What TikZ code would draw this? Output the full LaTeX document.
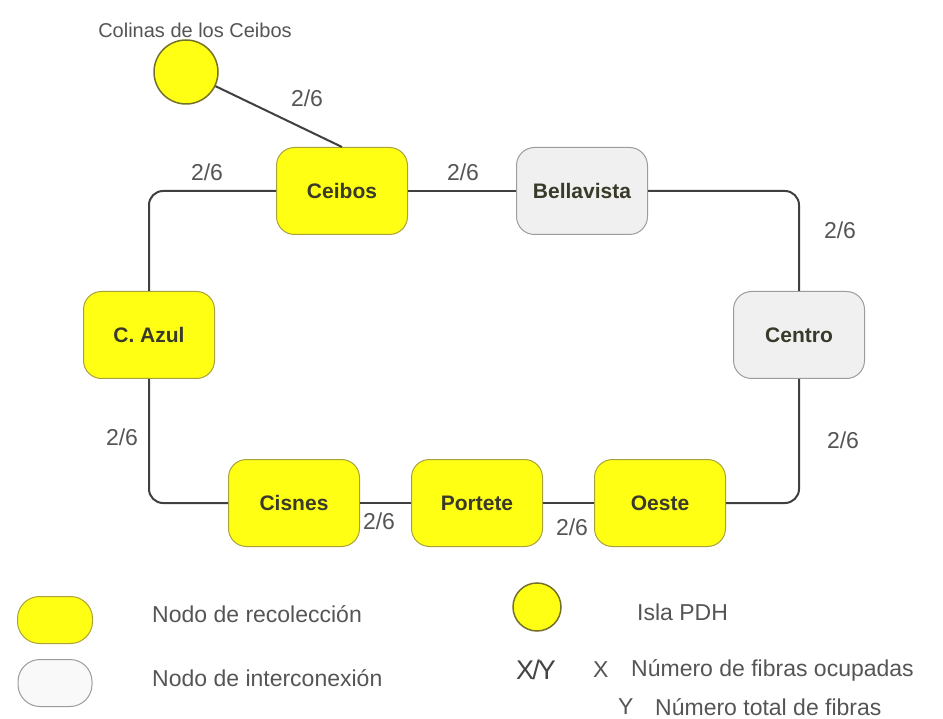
\documentclass[tikz,border=0pt]{standalone}
\usepackage{fontspec}
\setmainfont{Liberation Sans}
\definecolor{ylw}{HTML}{FFFF14}
\definecolor{ylwborder}{HTML}{A9A23C}
\definecolor{grayfill}{HTML}{F0F0F0}
\definecolor{grayborder}{HTML}{9C9C9C}
\definecolor{wirecol}{HTML}{404040}
\definecolor{lbl}{HTML}{555555}
\definecolor{nodetext}{HTML}{3A3A2A}
\tikzset{
  basebox/.style={rounded corners=18pt, minimum width=131pt, minimum height=87pt,
    font=\fontsize{21}{24}\selectfont\bfseries, text=nodetext, line width=1pt},
  collect/.style={basebox, fill=ylw, draw=ylwborder},
  inter/.style={basebox, fill=grayfill, draw=grayborder},
  wire/.style={draw=wirecol, line width=2pt, rounded corners=14pt},
  elabel/.style={font=\fontsize{23}{26}\selectfont, text=lbl, inner sep=0pt},
  legtext/.style={font=\fontsize{23}{26}\selectfont, text=lbl, anchor=west, inner sep=0pt},
  island/.style={circle, fill=ylw, draw=ylwborder!70!black, line width=1.5pt, inner sep=0pt},
}
\begin{document}
\begin{tikzpicture}[x=1pt,y=-1pt]
\useasboundingbox[fill=white] (0,0) rectangle (943,719);

\node[collect] (ceibos) at (342,191) {Ceibos};
\node[inter] (bella) at (582,191) {Bellavista};
\node[inter] (centro) at (799,335) {Centro};
\node[collect] (azul) at (149,335) {C. Azul};
\node[collect] (cisnes) at (294,503) {Cisnes};
\node[collect] (portete) at (477,503) {Portete};
\node[collect] (oeste) at (660,503) {Oeste};
\node[island, minimum size=64pt] (colinas) at (186,72) {};

\draw[wire] (colinas) -- (ceibos.north);
\draw[wire] (ceibos.east) -- (bella.west);
\draw[wire] (bella.east) -| (centro.north);
\draw[wire] (centro.south) |- (oeste.east);
\draw[wire] (oeste.west) -- (portete.east);
\draw[wire] (portete.west) -- (cisnes.east);
\draw[wire] (cisnes.west) -| (azul.south);
\draw[wire] (azul.north) |- (ceibos.west);

\node[font=\fontsize{20}{22}\selectfont, text=lbl] (colinaslbl) at (195,30) {Colinas de los Ceibos};

\node[elabel] (e1) at (307,98) {2/6};
\node[elabel] (e2) at (207,172) {2/6};
\node[elabel] (e3) at (463,172) {2/6};
\node[elabel] (e4) at (840,230) {2/6};
\node[elabel] (e5) at (843,440) {2/6};
\node[elabel] (e6) at (122,437) {2/6};
\node[elabel] (e7) at (379,521) {2/6};
\node[elabel] (e8) at (572,527) {2/6};

% legend
\node[collect, minimum width=75pt, minimum height=47pt, rounded corners=22pt] (legcollect) at (55,620) {};
\node[inter, fill=white!60!grayfill, minimum width=74pt, minimum height=47pt, rounded corners=22pt] (leginter) at (55,683) {};
\node[legtext] (t1) at (152,614) {Nodo de recolección};
\node[legtext] (t2) at (152,678) {Nodo de interconexión};
\node[island, minimum size=48pt] (legisland) at (537,607) {};
\node[legtext] (t3) at (637,612) {Isla PDH};
\node[font=\fontsize{27}{30}\selectfont, text=lbl!80!black, inner sep=0pt] (xy) at (536,670) {X\kern-2pt/\kern-2pt Y};
\node[legtext] (t4x) at (593,670) {X};
\node[legtext] (t4) at (631,670) {Número de fibras ocupadas};
\node[legtext] (t5y) at (618,707) {Y};
\node[legtext] (t5) at (655,707) {Número total de fibras};
\end{tikzpicture}
\end{document}
